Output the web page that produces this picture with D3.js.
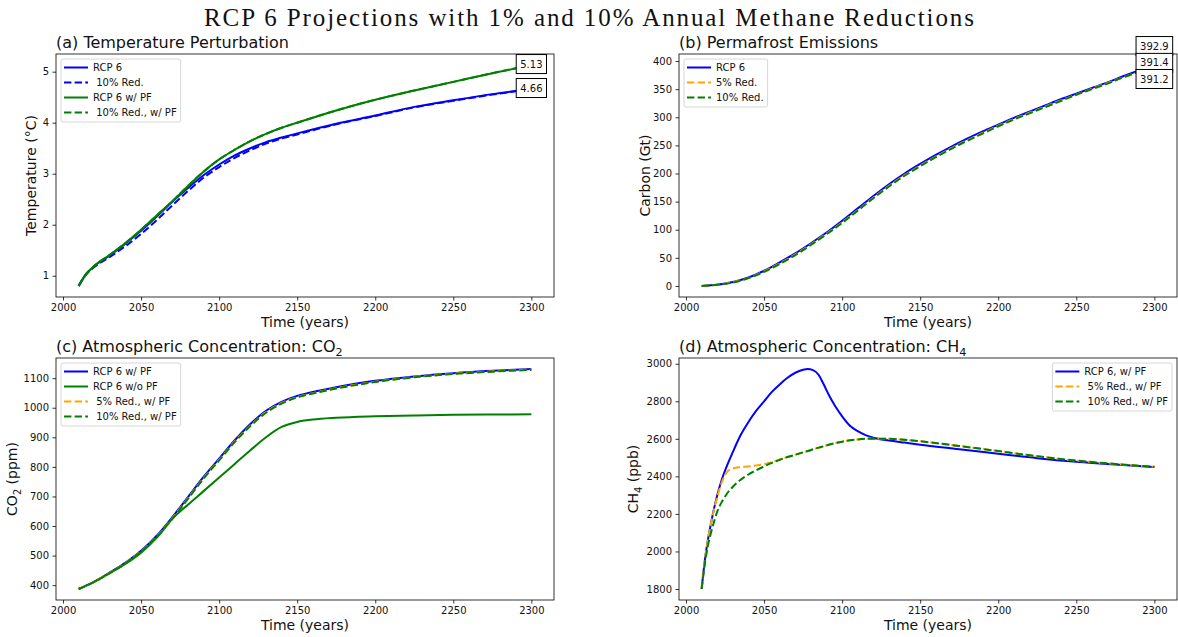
<!DOCTYPE html>
<html>
<head>
<meta charset="utf-8">
<script src="https://cdn.jsdelivr.net/npm/d3@7"></script>
<style>
body{margin:0;background:#fff}
text{font-family:"DejaVu Sans",sans-serif;fill:#111}
</style>
</head>
<body>
<svg id="chart" width="1178" height="637"></svg>
<script>
// ---------- data ----------
// (a) temperature perturbation, degC
var tempYears = [2010,2015,2020,2030,2040,2050,2060,2070,2080,2090,2100,2110,2120,2130,2140,2150,2175,2200,2225,2250,2275,2300];
var tempRcp6      = [0.80,1.04,1.19,1.40,1.63,1.88,2.16,2.45,2.72,2.97,3.18,3.36,3.50,3.62,3.71,3.79,3.98,4.14,4.31,4.44,4.56,4.66];
var tempRed10     = [0.80,1.03,1.17,1.37,1.58,1.82,2.09,2.38,2.66,2.92,3.13,3.31,3.46,3.59,3.69,3.77,3.97,4.13,4.30,4.43,4.55,4.66];
var tempRcp6PF    = [0.80,1.04,1.19,1.41,1.64,1.90,2.18,2.46,2.76,3.04,3.28,3.47,3.64,3.78,3.90,4.00,4.24,4.45,4.63,4.80,4.97,5.13];
var tempRed10PF   = [0.80,1.04,1.19,1.41,1.64,1.90,2.18,2.46,2.76,3.04,3.28,3.47,3.64,3.78,3.90,4.00,4.24,4.45,4.63,4.80,4.97,5.13];
var tempEndLabels = ['5.13', '4.66'];

// (b) permafrost emissions, Gt carbon
var pfYears = [2010,2020,2030,2040,2050,2060,2070,2080,2090,2100,2110,2120,2130,2140,2150,2160,2170,2180,2190,2200,2210,2220,2230,2240,2250,2260,2270,2280,2290,2300];
var pfRcp6  = [0,2,7,15,27,42,58,76,95,116,138,160,181,200,217,233,248,262,275,287,299,310,321,332,342,352,362,373,383,392.9];
var pfRed5  = [0,2,7,14,26,40,56,74,93,113,135,157,178,197,214,230,245,259,272,285,297,308,319,330,340,351,361,371,381,391.4];
var pfRed10 = [0,2,6,14,25,39,55,73,92,112,134,156,177,196,213,229,244,258,271,284,296,307,318,329,340,350,360,371,381,391.2];
var pfEndLabels = ['392.9', '391.4', '391.2'];

// (c) CO2 concentration, ppm
var co2Years = [2010,2020,2030,2040,2050,2060,2070,2080,2090,2100,2110,2120,2130,2140,2150,2160,2175,2200,2225,2250,2275,2300];
var co2Rcp6PF   = [387,412,443,476,516,567,630,698,766,828,890,945,990,1020,1040,1053,1069,1091,1106,1117,1125,1131];
var co2Rcp6NoPF = [387,411,441,472,510,560,624,672,718,764,810,856,900,935,952,960,966,971,974,976,977,978];
var co2Red5PF   = [387,412,442,475,514,564,626,694,762,824,886,940,985,1016,1036,1049,1066,1088,1104,1115,1123,1129];
var co2Red10PF  = [387,411,441,474,513,563,624,692,760,822,884,938,983,1014,1035,1048,1065,1087,1103,1114,1122,1128];

// (d) CH4 concentration, ppb
var ch4Years = [2010,2012,2014,2016,2018,2020,2023,2026,2030,2035,2040,2045,2050,2055,2060,2065,2070,2075,2078,2081,2085,2088,2092,2096,2100,2105,2110,2115,2120,2130,2140,2150,2175,2200,2225,2250,2275,2300];
var ch4Rcp6PF  = [1800,1950,2060,2150,2230,2300,2385,2452,2530,2620,2690,2750,2800,2850,2890,2925,2952,2968,2972,2967,2940,2893,2825,2768,2720,2670,2641,2620,2606,2591,2580,2569,2545,2520,2497,2478,2463,2450];
var ch4Red5PF  = [1800,1950,2060,2150,2225,2290,2370,2420,2442,2450,2453,2458,2465,2476,2490,2503,2516,2528,2535,2543,2553,2560,2570,2578,2585,2592,2597,2600,2601,2600,2595,2587,2562,2535,2507,2484,2466,2451];
var ch4Red10PF = [1800,1930,2030,2100,2160,2212,2265,2305,2345,2382,2410,2433,2453,2472,2488,2503,2515,2528,2535,2543,2553,2560,2570,2578,2585,2592,2597,2600,2601,2600,2595,2587,2562,2535,2507,2484,2466,2451];

var xTicks = [2000,2050,2100,2150,2200,2250,2300];

// ---------- drawing ----------
var svg = d3.select('#chart');
var DASH = '7.4,3.2';

svg.append('text')
    .attr('x', 589).attr('y', 26)
    .attr('text-anchor', 'middle')
    .attr('textLength', 770)
    .style('font-family', '"Liberation Serif",serif')
    .style('font-size', '25px')
    .text('RCP 6 Projections with 1% and 10% Annual Methane Reductions');

// parts: [text, isSubscript]
function addRich(sel, parts) {
    var shifted = false;
    parts.forEach(function(p){
        var t = sel.append('tspan').text(p[0]);
        if (p[1]) {
            t.attr('dy', 4).style('font-size', '70%');
            shifted = true;
        } else if (shifted) {
            t.attr('dy', -4);
            shifted = false;
        }
    });
}

function drawPanel(p) {
    var b = p.box;
    var g = svg.append('g').attr('transform', 'translate(' + b.x + ',' + b.y + ')');

    var allVals = d3.merge(p.series.map(function(s){ return s.values; }));
    var ye = d3.extent(allVals), ypad = (ye[1] - ye[0]) * 0.05;
    var xe = d3.extent(p.years), xpad = (xe[1] - xe[0]) * 0.05;
    var x = d3.scaleLinear().domain([xe[0] - xpad, xe[1] + xpad]).range([0, b.w]);
    var y = d3.scaleLinear().domain([ye[0] - ypad, ye[1] + ypad]).range([b.h, 0]);

    var line = d3.line()
        .x(function(d){ return x(d[0]); })
        .y(function(d){ return y(d[1]); })
        .curve(d3.curveMonotoneX);

    p.series.forEach(function(s){
        g.append('path')
            .datum(p.years.map(function(yr, i){ return [yr, s.values[i]]; }))
            .attr('d', line)
            .attr('fill', 'none')
            .attr('stroke', s.color)
            .attr('stroke-width', 2)
            .attr('stroke-dasharray', s.dash ? DASH : null);
    });

    // frame
    g.append('rect').attr('width', b.w).attr('height', b.h)
        .attr('fill', 'none').attr('stroke', '#000').attr('stroke-width', 0.8);

    var xa = g.append('g').attr('transform', 'translate(0,' + b.h + ')')
        .call(d3.axisBottom(x).tickValues(xTicks).tickFormat(d3.format('d')).tickSize(3.5).tickPadding(3.5));
    var ya = g.append('g')
        .call(d3.axisLeft(y).tickValues(p.yTicks).tickFormat(d3.format('d')).tickSize(3.5).tickPadding(3.5));
    [xa, ya].forEach(function(a){
        a.select('.domain').remove();
        a.selectAll('text').style('font-size', '10px').attr('fill', '#111');
        a.selectAll('line').attr('stroke', '#000').attr('stroke-width', 0.8);
    });

    // labels
    g.append('text').attr('x', 0).attr('y', -6)
        .style('font-size', '16px')
        .call(addRich, p.title);
    g.append('text').attr('x', b.w / 2).attr('y', b.h + 30)
        .attr('text-anchor', 'middle').style('font-size', '14px')
        .text('Time (years)');
    g.append('text')
        .attr('transform', 'translate(' + p.ylabelX + ',' + (b.h / 2) + ') rotate(-90)')
        .attr('text-anchor', 'middle')
        .style('font-size', '14px')
        .call(addRich, p.ylabel);

    // legend
    var lg = g.append('g');
    var frame = lg.append('rect');
    var maxW = 0;
    p.series.forEach(function(s, i){
        var cy = 8.5 + 15 * i;
        lg.append('line').attr('x1', 3).attr('x2', 27).attr('y1', cy).attr('y2', cy)
            .attr('stroke', s.color).attr('stroke-width', 2)
            .attr('stroke-dasharray', s.dash ? DASH : null);
        var t = lg.append('text').attr('x', 32).attr('y', cy).attr('dy', '0.35em')
            .style('font-size', '10px').style('white-space', 'pre').text(s.name);
        maxW = Math.max(maxW, t.node().getComputedTextLength());
    });
    var lw = 32 + maxW + 4, lh = 18 + 15 * (p.series.length - 1);
    frame.attr('width', lw).attr('height', lh).attr('rx', 2)
        .attr('fill', '#fff').attr('fill-opacity', 0.8)
        .attr('stroke', '#ccc').attr('stroke-width', 0.8);
    var lx = p.legendRight ? b.w - 5 - lw : 5;
    lg.attr('transform', 'translate(' + lx + ',' + 5 + ')');

    // end-value boxes
    (p.endLabels || []).forEach(function(v, i){
        var off = p.endOffsets ? p.endOffsets[i] : -1;
        var ag = g.append('g').attr('transform', 'translate(' + x(xe[1]) + ',' + (y(+v) + off) + ')');
        var r = ag.append('rect');
        var t = ag.append('text').attr('text-anchor', 'middle').attr('dy', '0.35em')
            .style('font-size', '10px').text(v);
        var tw = t.node().getComputedTextLength();
        r.attr('x', -tw / 2 - 4).attr('y', -9.5).attr('width', tw + 8).attr('height', 19)
            .attr('fill', '#fff').attr('stroke', '#000').attr('stroke-width', 1);
    });
}

drawPanel({
    box: {x: 56, y: 54, w: 498, h: 243},
    years: tempYears,
    series: [
        {name: 'RCP 6', values: tempRcp6, color: 'blue'},
        {name: ' 10% Red.', values: tempRed10, color: 'blue', dash: true},
        {name: 'RCP 6 w/ PF', values: tempRcp6PF, color: 'green'},
        {name: ' 10% Red., w/ PF', values: tempRed10PF, color: 'green', dash: true}
    ],
    yTicks: [1,2,3,4,5],
    title: [['(a) Temperature Perturbation']],
    ylabel: [['Temperature (\u00b0C)']],
    ylabelX: -20,
    endLabels: tempEndLabels
});

drawPanel({
    box: {x: 679, y: 54, w: 498, h: 243},
    years: pfYears,
    series: [
        {name: 'RCP 6', values: pfRcp6, color: 'blue'},
        {name: '5% Red.', values: pfRed5, color: 'orange', dash: true},
        {name: '10% Red.', values: pfRed10, color: 'green', dash: true}
    ],
    yTicks: d3.range(0, 401, 50),
    title: [['(b) Permafrost Emissions']],
    ylabel: [['Carbon (Gt)']],
    ylabelX: -29,
    endLabels: pfEndLabels,
    endOffsets: [-19, -3, 13]
});

drawPanel({
    box: {x: 56, y: 358, w: 498, h: 242},
    years: co2Years,
    series: [
        {name: 'RCP 6 w/ PF', values: co2Rcp6PF, color: 'blue'},
        {name: 'RCP 6 w/o PF', values: co2Rcp6NoPF, color: 'green'},
        {name: ' 5% Red., w/ PF', values: co2Red5PF, color: 'orange', dash: true},
        {name: ' 10% Red., w/ PF', values: co2Red10PF, color: 'green', dash: true}
    ],
    yTicks: d3.range(400, 1101, 100),
    title: [['(c) Atmospheric Concentration: CO'], ['2', true]],
    ylabel: [['CO'], ['2', true], [' (ppm)']],
    ylabelX: -39
});

drawPanel({
    box: {x: 679, y: 358, w: 498, h: 242},
    years: ch4Years,
    series: [
        {name: 'RCP 6, w/ PF', values: ch4Rcp6PF, color: 'blue'},
        {name: ' 5% Red., w/ PF', values: ch4Red5PF, color: 'orange', dash: true},
        {name: ' 10% Red., w/ PF', values: ch4Red10PF, color: 'green', dash: true}
    ],
    yTicks: d3.range(1800, 3001, 200),
    title: [['(d) Atmospheric Concentration: CH'], ['4', true]],
    ylabel: [['CH'], ['4', true], [' (ppb)']],
    ylabelX: -41,
    legendRight: true
});
</script>
</body>
</html>
